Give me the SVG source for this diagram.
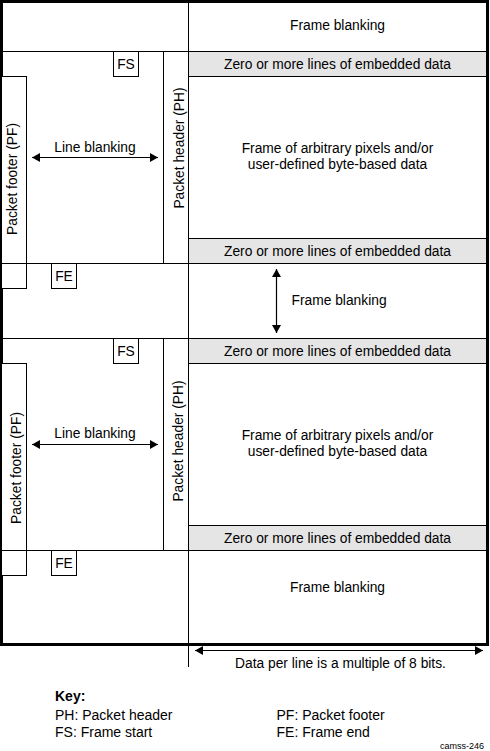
<svg xmlns="http://www.w3.org/2000/svg" width="490" height="751" viewBox="0 0 490 751">
<style>
text{font-family:"Liberation Sans",Arial,sans-serif;font-size:13.8px;fill:#000}
.c{text-anchor:middle}
.ln{stroke:#000;stroke-width:1;fill:none}
.box{stroke:#000;stroke-width:1;fill:#fff}
.emb{stroke:#000;stroke-width:1;fill:#e5e5e5}
.arr{stroke:#000;stroke-width:1.2;fill:none;marker-start:url(#ah);marker-end:url(#ah)}
.key{font-size:14px}
</style>
<defs>
<marker id="ah" markerUnits="userSpaceOnUse" markerWidth="9" markerHeight="10" refX="8" refY="4.5" orient="auto-start-reverse">
<path d="M0,0 L8,4.5 L0,9 z" fill="#000"/>
</marker>
</defs>
<rect x="0" y="0" width="490" height="751" fill="#fff"/>

<g id="frame-outline">
<rect x="1.5" y="1.5" width="486" height="643" fill="none" stroke="#000" stroke-width="3"/>
<line class="ln" x1="188.5" y1="0" x2="188.5" y2="667"/>
<line class="ln" x1="0" y1="51.5" x2="488" y2="51.5"/>
<line class="ln" x1="0" y1="263.5" x2="488" y2="263.5"/>
<line class="ln" x1="0" y1="338.5" x2="488" y2="338.5"/>
<line class="ln" x1="0" y1="550.5" x2="488" y2="550.5"/>
</g>

<g id="frame-blanking-top">
<text class="c" x="337.5" y="29.5">Frame blanking</text>
</g>

<g id="embedded-1">
<rect class="emb" x="188.5" y="51.5" width="298" height="25"/>
<text class="c" x="337.5" y="68.7">Zero or more lines of embedded data</text>
</g>

<g id="frame-data-1">
<text class="c" x="337.5" y="152.5">Frame of arbitrary pixels and/or</text>
<text class="c" x="337.5" y="168.5">user-defined byte-based data</text>
</g>

<g id="embedded-2">
<rect class="emb" x="188.5" y="238.5" width="298" height="25"/>
<text class="c" x="337.5" y="255.7">Zero or more lines of embedded data</text>
</g>

<g id="fs-1">
<rect class="box" x="113.5" y="51.5" width="25" height="25"/>
<text class="c" x="126" y="68.5">FS</text>
</g>

<g id="ph-1">
<rect class="box" x="163.5" y="51.5" width="25" height="212"/>
<text class="c" transform="translate(183.5,148) rotate(-90)" x="0" y="0">Packet header (PH)</text>
</g>

<g id="pf-1">
<rect class="box" x="1.5" y="76.5" width="25" height="212"/>
<line class="ln" x1="0" y1="263.5" x2="27" y2="263.5"/>
<text class="c" transform="translate(16.5,179) rotate(-90)" x="0" y="0">Packet footer (PF)</text>
</g>

<g id="line-blanking-1">
<text class="c" x="95" y="151.5">Line blanking</text>
</g>

<g id="fe-1">
<rect class="box" x="51.5" y="263.5" width="25" height="25"/>
<text class="c" x="64" y="280.5">FE</text>
</g>

<g id="frame-blanking-mid">
<text x="291.5" y="305">Frame blanking</text>
</g>

<g id="embedded-3">
<rect class="emb" x="188.5" y="338.5" width="298" height="25"/>
<text class="c" x="337.5" y="355.7">Zero or more lines of embedded data</text>
</g>

<g id="frame-data-2">
<text class="c" x="337.5" y="439.5">Frame of arbitrary pixels and/or</text>
<text class="c" x="337.5" y="455.5">user-defined byte-based data</text>
</g>

<g id="embedded-4">
<rect class="emb" x="188.5" y="525.5" width="298" height="25"/>
<text class="c" x="337.5" y="542.7">Zero or more lines of embedded data</text>
</g>

<g id="fs-2">
<rect class="box" x="113.5" y="338.5" width="25" height="25"/>
<text class="c" x="126" y="355.5">FS</text>
</g>

<g id="ph-2">
<rect class="box" x="163.5" y="338.5" width="25" height="212"/>
<text class="c" transform="translate(182.5,441) rotate(-90)" x="0" y="0">Packet header (PH)</text>
</g>

<g id="pf-2">
<rect class="box" x="1.5" y="363.5" width="25" height="212"/>
<line class="ln" x1="0" y1="550.5" x2="27" y2="550.5"/>
<text class="c" transform="translate(20.5,468) rotate(-90)" x="0" y="0">Packet footer (PF)</text>
</g>

<g id="line-blanking-2">
<text class="c" x="95" y="438">Line blanking</text>
</g>

<g id="fe-2">
<rect class="box" x="51.5" y="550.5" width="25" height="25"/>
<text class="c" x="64" y="567.5">FE</text>
</g>

<g id="frame-blanking-bottom">
<text class="c" x="337.5" y="591.5">Frame blanking</text>
</g>

<g id="line-width-note">
<text class="c" x="340.5" y="668">Data per line is a multiple of 8 bits.</text>
</g>

<g id="connectors">
<line class="arr" x1="32" y1="157.5" x2="158" y2="157.5"/>
<line class="arr" x1="32" y1="444.5" x2="158" y2="444.5"/>
<line class="arr" x1="276.5" y1="269" x2="276.5" y2="333"/>
<line class="arr" x1="195" y1="650.5" x2="483" y2="650.5"/>
</g>

<g id="key">
<text class="key" x="55" y="701" font-weight="bold">Key:</text>
<text class="key" x="55" y="720">PH: Packet header</text>
<text class="key" x="55" y="737">FS: Frame start</text>
<text class="key" x="276.5" y="720">PF: Packet footer</text>
<text class="key" x="276.5" y="737">FE: Frame end</text>
<text x="484" y="749" style="font-size:9px;text-anchor:end">camss-246</text>
</g>
</svg>
